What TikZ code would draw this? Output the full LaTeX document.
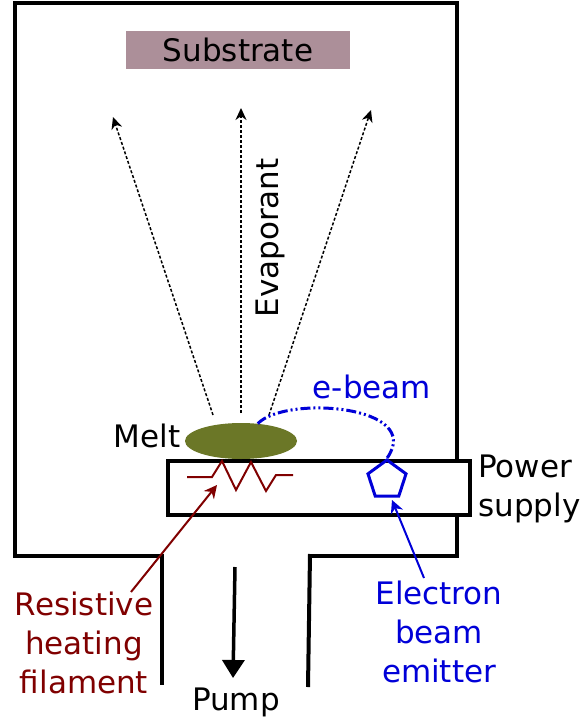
\documentclass[tikz,border=0pt]{standalone}
\usepackage{fontspec}
\setmainfont{DejaVu Sans}
\usepackage{xcolor}
\usetikzlibrary{shapes.geometric,arrows.meta}
\definecolor{substrate}{HTML}{AC8F99}
\definecolor{melt}{HTML}{6B7727}
\definecolor{heater}{HTML}{800000}
\definecolor{beam}{HTML}{0000D8}
\tikzset{
    label/.style={inner sep=0pt, align=center, font=\fontsize{31}{39.2}\selectfont},
    wall/.style={line width=4.5pt, line join=miter},
    vapour/.style={line width=1.5pt, dash pattern=on 3pt off 2pt, -{Stealth[length=12pt,width=11pt]}}
}

\begin{document}
\begin{tikzpicture}[x=1pt, y=-1pt]
        \useasboundingbox (0,0) rectangle (579,722);
        \fill[white] (0,0) rectangle (579,722);
        % chamber and pump duct
        \draw[wall] (162,556) -- (15,556) -- (15,3) -- (457,3) -- (457,556) -- (310,556);
        \draw[line width=4pt] (162,554) -- (162,685);
        \draw[line width=4pt] (310,554) -- (308,687);
        % stage
        \node[draw, fill=white, line width=4.5pt, minimum width=302pt, minimum height=54pt, inner sep=0pt] (supplybox) at (319,488) {};
        \node[fill=melt, ellipse, inner sep=0pt, minimum width=112pt, minimum height=36pt] (meltpool) at (241,441) {};
        \node[label, fill=substrate, minimum width=224pt, minimum height=38pt] (substrate) at (238,50) {Substrate};
        % evaporant
        \coordinate (leftfrom) at (213,415);
        \coordinate (leftto) at (113,117);
        \coordinate (midfrom) at (241,413);
        \coordinate (midto) at (241,108);
        \coordinate (rightfrom) at (269,415);
        \coordinate (rightto) at (371,110);
        \draw[vapour] (leftfrom) -- (leftto);
        \draw[vapour] (midfrom) -- (midto);
        \draw[vapour] (rightfrom) -- (rightto);
        \node[label, rotate=90] (evaporant) at (270,238) {Evaporant};
        % filament
        \draw[heater, line width=2pt] (187,477) -- (212,477) -- (222,461) -- (236,490) -- (251,462) -- (266,491) -- (276,475) -- (293,475);
        \coordinate (filamenttip) at (217,485);
        % emitter and beam
        \node[draw=beam, regular polygon, regular polygon sides=5, line width=3pt, minimum size=40pt, inner sep=0pt] (emitter) at (387,480) {};
        \draw[beam, line width=3pt, dash pattern=on 10pt off 3pt on 2pt off 3pt on 2pt off 3pt] (meltpool.46) .. controls (285,395) and (425,405) .. (emitter.corner 1);
        % labels
        \node[label] (meltlabel) at (147,436) {Melt};
        \node[label, text=beam] (beamlabel) at (372,387) {e-beam};
        \node[label, align=left, anchor=west] (supplylabel) at (478,489) {Power\\supply};
        \node[label, text=heater] (heaterlabel) at (84,643) {Resistive\\heating\\filament};
        \node[label, text=beam] (emitterlabel) at (439,632) {Electron\\beam\\emitter};
        \node[label] (pumplabel) at (236,702) {Pump};
        % pointers
        \coordinate (heaterfrom) at (131,592);
        \coordinate (emitterfrom) at (424,578);
        \coordinate (emitterto) at (392,500);
        \draw[heater, line width=2pt, -{Stealth[length=13pt,width=13pt]}] (heaterfrom) -- (filamenttip);
        \draw[beam, line width=2pt, -{Stealth[length=13pt,width=13pt]}] (emitterfrom) -- (emitterto);
        \coordinate (pumpfrom) at (235,567);
        \coordinate (pumpto) at (233,678);
        \draw[line width=3.5pt, -{Triangle[length=18pt,width=22pt]}] (pumpfrom) -- (pumpto);
    \end{tikzpicture}
\end{document}
